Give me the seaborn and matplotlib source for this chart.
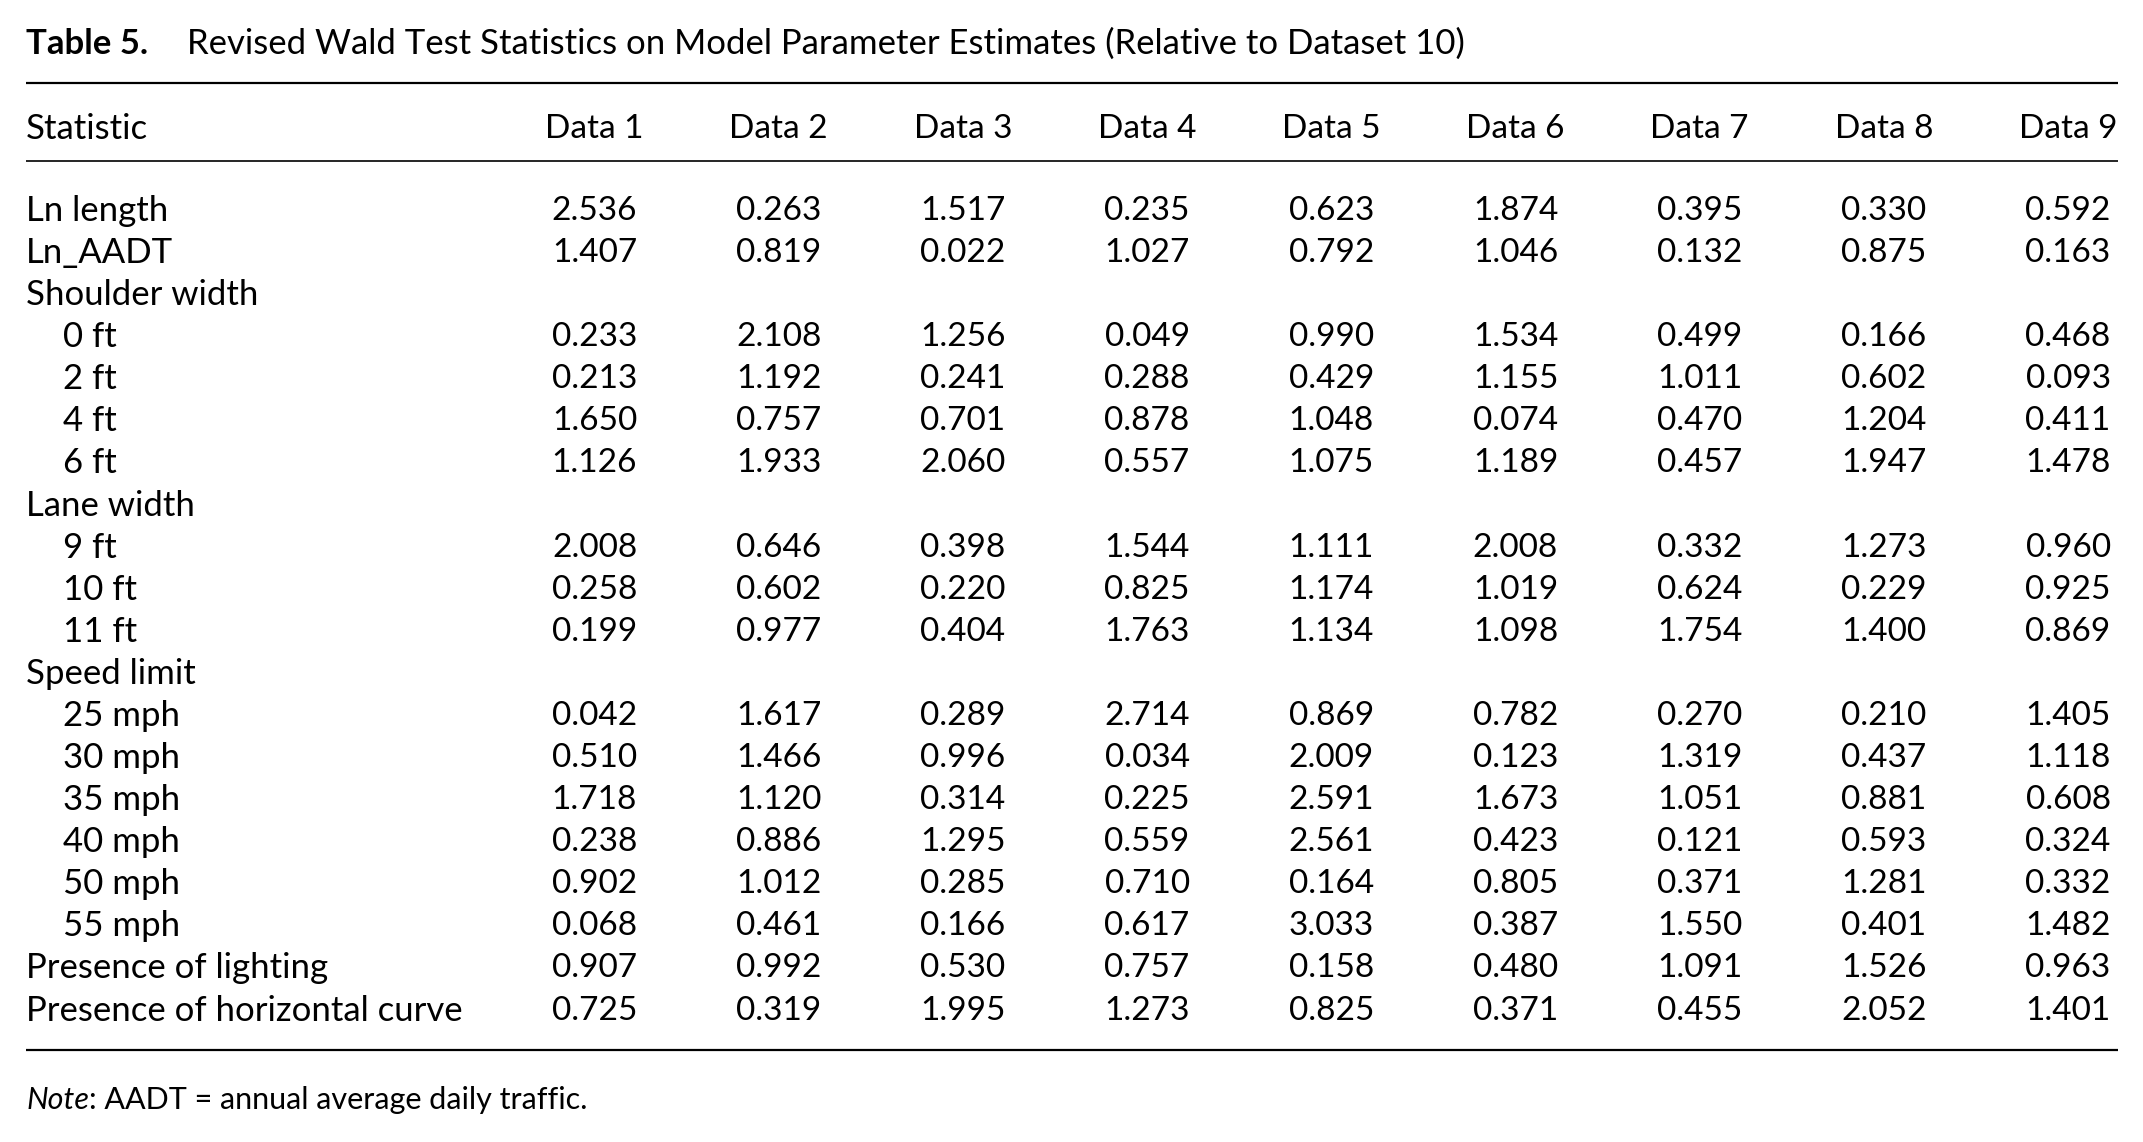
import numpy as np
import pandas as pd
import matplotlib
matplotlib.use("Agg")
import matplotlib.pyplot as plt
import seaborn as sns
from matplotlib.colors import ListedColormap

# ---------------- data ----------------
title_bold = "Table 5."
title_text = "Revised Wald Test Statistics on Model Parameter Estimates (Relative to Dataset 10)"
stub_header = "Statistic"
columns = ["Data 1", "Data 2", "Data 3", "Data 4", "Data 5", "Data 6", "Data 7", "Data 8", "Data 9"]
note_italic = "Note"
note_text = ": AADT = annual average daily traffic."

row_labels = ["Ln length", "Ln_AADT", "Shoulder width", "0 ft", "2 ft", "4 ft", "6 ft",
              "Lane width", "9 ft", "10 ft", "11 ft", "Speed limit",
              "25 mph", "30 mph", "35 mph", "40 mph", "50 mph", "55 mph",
              "Presence of lighting", "Presence of horizontal curve"]
row_indented = [False, False, False, True, True, True, True,
                False, True, True, True, False,
                True, True, True, True, True, True,
                False, False]

ln_length = [2.536, 0.263, 1.517, 0.235, 0.623, 1.874, 0.395, 0.330, 0.592]
ln_aadt = [1.407, 0.819, 0.022, 1.027, 0.792, 1.046, 0.132, 0.875, 0.163]
shoulder_header = None
shoulder_0ft = [0.233, 2.108, 1.256, 0.049, 0.990, 1.534, 0.499, 0.166, 0.468]
shoulder_2ft = [0.213, 1.192, 0.241, 0.288, 0.429, 1.155, 1.011, 0.602, 0.093]
shoulder_4ft = [1.650, 0.757, 0.701, 0.878, 1.048, 0.074, 0.470, 1.204, 0.411]
shoulder_6ft = [1.126, 1.933, 2.060, 0.557, 1.075, 1.189, 0.457, 1.947, 1.478]
lane_header = None
lane_9ft = [2.008, 0.646, 0.398, 1.544, 1.111, 2.008, 0.332, 1.273, 0.960]
lane_10ft = [0.258, 0.602, 0.220, 0.825, 1.174, 1.019, 0.624, 0.229, 0.925]
lane_11ft = [0.199, 0.977, 0.404, 1.763, 1.134, 1.098, 1.754, 1.400, 0.869]
speed_header = None
speed_25 = [0.042, 1.617, 0.289, 2.714, 0.869, 0.782, 0.270, 0.210, 1.405]
speed_30 = [0.510, 1.466, 0.996, 0.034, 2.009, 0.123, 1.319, 0.437, 1.118]
speed_35 = [1.718, 1.120, 0.314, 0.225, 2.591, 1.673, 1.051, 0.881, 0.608]
speed_40 = [0.238, 0.886, 1.295, 0.559, 2.561, 0.423, 0.121, 0.593, 0.324]
speed_50 = [0.902, 1.012, 0.285, 0.710, 0.164, 0.805, 0.371, 1.281, 0.332]
speed_55 = [0.068, 0.461, 0.166, 0.617, 3.033, 0.387, 1.550, 0.401, 1.482]
lighting = [0.907, 0.992, 0.530, 0.757, 0.158, 0.480, 1.091, 1.526, 0.963]
horizontal_curve = [0.725, 0.319, 1.995, 1.273, 0.825, 0.371, 0.455, 2.052, 1.401]

rows = [ln_length, ln_aadt, shoulder_header, shoulder_0ft, shoulder_2ft, shoulder_4ft, shoulder_6ft,
        lane_header, lane_9ft, lane_10ft, lane_11ft, speed_header,
        speed_25, speed_30, speed_35, speed_40, speed_50, speed_55,
        lighting, horizontal_curve]

matrix = np.array([r if r is not None else [np.nan] * len(columns) for r in rows], dtype=float)
df = pd.DataFrame(matrix, index=row_labels, columns=columns)

# ---------------- layout ----------------
W, H = 2143, 1142
FS_NUM = 24
FS_TXT = 25
FONT = ["Lato", "DejaVu Sans"]
plt.rcParams["font.family"] = FONT

X0, DX = 594.5, 184.2     # pixel centre of first data column, column pitch
Y0, DY = 211.0, 42.08     # pixel centre of first body row, row pitch
YOFF = 3                  # text centring offset


def xd(p):
    return (p - X0) / DX + 0.5


def yd(p):
    return (p - Y0) / DY + 0.5


fig = plt.figure(figsize=(W / 100, H / 100), dpi=100)
fig.patch.set_facecolor("white")
ax = fig.add_axes([0, 0, 1, 1])

sns.heatmap(df, ax=ax, cmap=ListedColormap(["white"]), cbar=False,
            annot=True, fmt=".3f",
            annot_kws={"fontsize": FS_NUM, "color": "black", "family": FONT},
            xticklabels=False, yticklabels=False, linewidths=0)

ax.set_xlim(xd(0), xd(W))
ax.set_ylim(yd(H), yd(0))
ax.set_axis_off()

# row labels
for i, (lab, ind) in enumerate(zip(row_labels, row_indented)):
    ax.text(xd(63 if ind else 26), i + 0.5, lab, ha="left", va="center",
            fontsize=FS_TXT, color="black")

# header
ax.text(xd(26), yd(126 + YOFF), stub_header, ha="left", va="center", fontsize=FS_TXT, color="black")
for j, c in enumerate(columns):
    ax.text(j + 0.5, yd(126 + YOFF), c, ha="center", va="center", fontsize=FS_NUM, color="black")

# rules
ax.hlines([yd(83), yd(1050)], xd(26), xd(2118), color="black", lw=1.6)
ax.hlines([yd(161)], xd(26), xd(2118), color="black", lw=1.2)

# title
ax.text(xd(26), yd(41 + YOFF), title_bold, ha="left", va="center", fontsize=FS_TXT,
        fontweight="bold", color="black")
ax.text(xd(187), yd(41 + YOFF), title_text, ha="left", va="center", fontsize=FS_TXT, color="black")

# note
t_note = ax.text(xd(26), yd(1097 + YOFF), note_italic, ha="left", va="center", fontsize=FS_NUM - 2,
                 fontstyle="italic", color="black")
fig.canvas.draw()
bb = t_note.get_window_extent(renderer=fig.canvas.get_renderer())
ax.text(xd(bb.x1), yd(1097 + YOFF), note_text, ha="left", va="center", fontsize=FS_NUM - 2, color="black")

fig.savefig("out.png", dpi=100, facecolor="white")
